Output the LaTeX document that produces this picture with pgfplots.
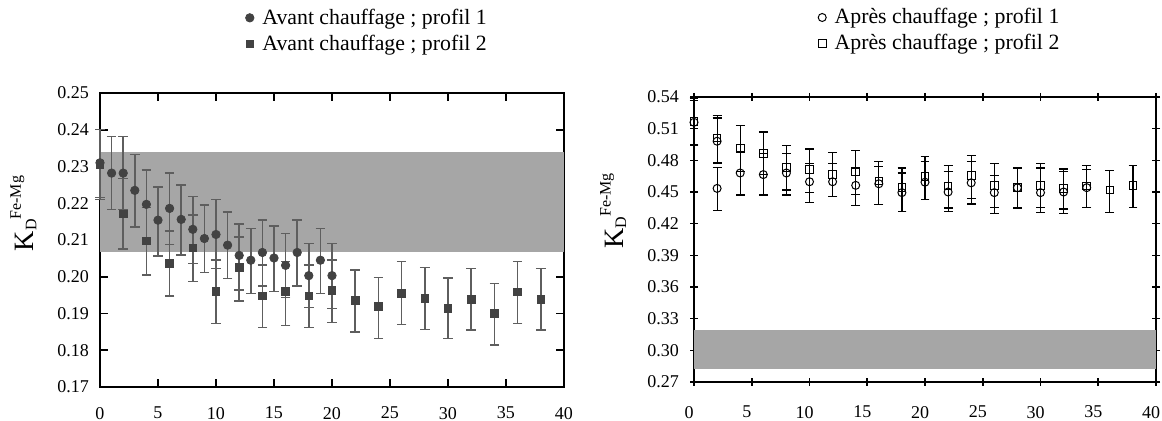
\documentclass[border=0pt]{standalone}
\usepackage{fontspec}
\setmainfont{Liberation Serif}
\usepackage{pgfplots}
\usepackage{pgfplotstable}
\pgfplotsset{compat=1.18}
\definecolor{band}{HTML}{A6A6A6}
\definecolor{mk}{HTML}{424242}
\definecolor{eb}{HTML}{5E5E5E}

% Avant chauffage ; profil 1
\pgfplotstableread{
x y ep em
0 0.2310 0.0090 0.0095
1 0.2282 0.0100 0.0099
2 0.2282 0.0100 0.0099
3 0.2235 0.0097 0.0100
4 0.2197 0.0094 0.0095
5 0.2154 0.0090 0.0098
6 0.2186 0.0096 0.0098
7 0.2156 0.0093 0.0097
8 0.2129 0.0090 0.0093
9 0.2104 0.0091 0.0093
10 0.2115 0.0095 0.0093
11 0.2086 0.0090 0.0091
12 0.2058 0.0086 0.0094
13 0.2045 0.0086 0.0091
14 0.2066 0.0088 0.0091
15 0.2051 0.0087 0.0091
16 0.2031 0.0086 0.0087
17 0.2066 0.0088 0.0091
18 0.2003 0.0087 0.0087
19 0.2045 0.0086 0.0091
20 0.2003 0.0087 0.0089
}\avantA

% Avant chauffage ; profil 2
\pgfplotstableread{
x y ep em
0 0.2305 0.0095 0.0095
2 0.2171 0.0096 0.0096
4 0.2097 0.0091 0.0092
6 0.2036 0.0088 0.0088
8 0.2079 0.0089 0.0092
10 0.1960 0.0085 0.0087
12 0.2025 0.0083 0.0091
14 0.1948 0.0084 0.0086
16 0.1960 0.0081 0.0092
18 0.1948 0.0084 0.0086
20 0.1963 0.0082 0.0087
22 0.1936 0.0082 0.0087
24 0.1919 0.0079 0.0087
26 0.1955 0.0086 0.0085
28 0.1941 0.0084 0.0084
30 0.1914 0.0083 0.0082
32 0.1939 0.0083 0.0084
34 0.1901 0.0081 0.0087
36 0.1959 0.0083 0.0086
38 0.1939 0.0083 0.0084
}\avantB

% Apres chauffage ; profil 1
\pgfplotstableread{
x y ep em
0 0.5160 0.0210 0.0215
2 0.4981 0.0220 0.0210
2 0.4534 0.0195 0.0210
4 0.4680 0.0205 0.0208
6 0.4665 0.0200 0.0193
8 0.4680 0.0186 0.0208
10 0.4597 0.0176 0.0197
12 0.4597 0.0170 0.0140
14 0.4563 0.0164 0.0193
16 0.4578 0.0164 0.0198
18 0.4494 0.0186 0.0180
20 0.4593 0.0196 0.0161
22 0.4500 0.0196 0.0186
24 0.4587 0.0202 0.0201
26 0.4494 0.0161 0.0201
28 0.4540 0.0187 0.0192
30 0.4494 0.0233 0.0186
32 0.4500 0.0196 0.0207
34 0.4541 0.0170 0.0186
}\apresA

% Apres chauffage ; profil 2
\pgfplotstableread{
x y ep em
0 0.5170 0.0220 0.0220
2 0.5012 0.0211 0.0230
4 0.4913 0.0217 0.0220
6 0.4866 0.0202 0.0200
8 0.4733 0.0211 0.0214
10 0.4711 0.0196 0.0217
12 0.4665 0.0208 0.0208
14 0.4690 0.0201 0.0211
16 0.4603 0.0186 0.0223
18 0.4540 0.0187 0.0226
20 0.4649 0.0186 0.0217
22 0.4556 0.0193 0.0208
24 0.4655 0.0190 0.0214
26 0.4562 0.0205 0.0207
28 0.4540 0.0187 0.0192
30 0.4562 0.0205 0.0207
32 0.4531 0.0187 0.0192
34 0.4556 0.0193 0.0201
36 0.4519 0.0186 0.0211
38 0.4562 0.0187 0.0207
}\apresB

\begin{document}
\begin{tikzpicture}
\useasboundingbox (0,0) rectangle (581pt,210.5pt);
\pgfplotsset{
  common/.style={
    scale only axis, anchor=south west, clip=false,
    xmin=0, xmax=40, xtick={0,5,10,15,20,25,30,35,40},
    axis line style={line width=0.9pt, black},
    tick style={line width=0.8pt, black},
    major tick length=4pt,
    tick label style={font=\fontsize{9}{10}\selectfont},
    /pgf/number format/assume math mode=true,
    xticklabel style={yshift=-6.5pt},
    yticklabel style={xshift=-2pt, /pgf/number format/.cd, fixed, fixed zerofill, precision=2},
    legend style={draw=none, fill=none, font=\fontsize{10.9}{13}\selectfont,
      anchor=north west, legend cell align=left, row sep=1.5pt, column sep=3pt,
      nodes={inner sep=1.2pt}},
    legend image code/.code={\draw[mark repeat=1,##1] plot coordinates {(0.1cm,0cm)};},
    ylabel style={rotate=0, anchor=center},
  },
}
% ---------------- left: avant chauffage
\begin{axis}[common,
  at={(50pt,17pt)}, width=232pt, height=147pt,
  ymin=0.17, ymax=0.25,
  ytick={0.17,0.18,0.19,0.20,0.21,0.22,0.23,0.24,0.25},
  tick align=inside,
  legend style={at={(axis description cs:0.30,1.31)}},
  ylabel={K\raisebox{-1.2pt}{\fontsize{8}{9}\selectfont D}\raisebox{6.5pt}{\fontsize{8}{9}\selectfont Fe-Mg}},
  ylabel style={font=\fontsize{14}{16}\selectfont, at={(axis description cs:-0.165,0.59)}},
]
\addplot[fill=band, draw=none, forget plot] coordinates {(0,0.2068) (40,0.2068) (40,0.2339) (0,0.2339)} -- cycle;
\addplot[only marks, mark=*, mark size=2.1pt, mark options={fill=mk, draw=mk},
  error bars/.cd, y dir=both, y explicit,
  error bar style={eb, line width=0.75pt},
  error mark options={rotate=90, eb, mark size=2.4pt, line width=0.75pt}]
  table[x=x, y=y, y error plus=ep, y error minus=em] {\avantA};
\addlegendentry{Avant chauffage ; profil 1}
\addplot[only marks, mark=square*, mark size=1.9pt, mark options={fill=mk, draw=mk},
  error bars/.cd, y dir=both, y explicit,
  error bar style={eb, line width=0.75pt},
  error mark options={rotate=90, eb, mark size=2.4pt, line width=0.75pt}]
  table[x=x, y=y, y error plus=ep, y error minus=em] {\avantB};
\addlegendentry{Avant chauffage ; profil 2}
\end{axis}
% ---------------- right: apres chauffage
\begin{axis}[common,
  at={(347pt,19.5pt)}, width=231pt, height=142.5pt,
  ymin=0.27, ymax=0.54,
  ytick={0.27,0.30,0.33,0.36,0.39,0.42,0.45,0.48,0.51,0.54},
  tick align=center,
  xticklabel style={xshift=-2.5pt},
  legend style={at={(axis description cs:0.255,1.335)}},
  ylabel={K\raisebox{-1.2pt}{\fontsize{8}{9}\selectfont D}\raisebox{6.5pt}{\fontsize{8}{9}\selectfont Fe-Mg}},
  ylabel style={font=\fontsize{14}{16}\selectfont, at={(axis description cs:-0.175,0.60)}},
]
\addplot[fill=band, draw=none, forget plot] coordinates {(0,0.2823) (40,0.2823) (40,0.3190) (0,0.3190)} -- cycle;
\addplot[only marks, mark=o, mark size=2pt, mark options={draw=black, fill=white, line width=0.5pt},
  error bars/.cd, y dir=both, y explicit,
  error bar style={black, line width=0.6pt},
  error mark options={rotate=90, black, mark size=2.2pt, line width=0.6pt}]
  table[x=x, y=y, y error plus=ep, y error minus=em] {\apresA};
\addlegendentry{Après chauffage ; profil 1}
\addplot[only marks, mark=square, mark size=1.9pt, mark options={draw=black, fill=white, line width=0.5pt},
  error bars/.cd, y dir=both, y explicit,
  error bar style={black, line width=0.6pt},
  error mark options={rotate=90, black, mark size=2.2pt, line width=0.6pt}]
  table[x=x, y=y, y error plus=ep, y error minus=em] {\apresB};
\addlegendentry{Après chauffage ; profil 2}
\end{axis}
\end{tikzpicture}
\end{document}
